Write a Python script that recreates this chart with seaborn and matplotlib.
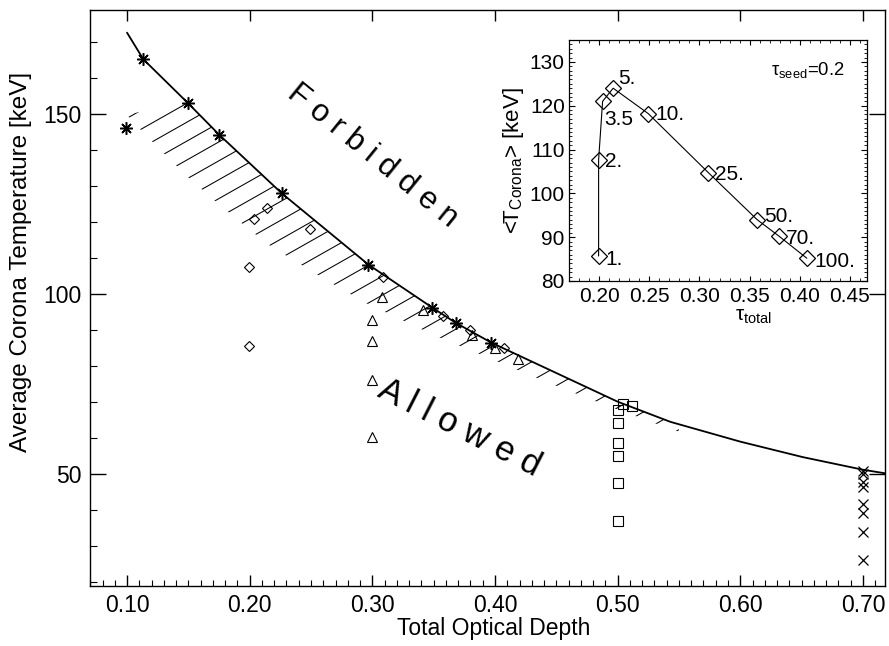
import numpy as np
import matplotlib
matplotlib.use('Agg')
import matplotlib.pyplot as plt
import seaborn as sns
import pandas as pd
from matplotlib.patches import Polygon
from matplotlib.ticker import MultipleLocator, FormatStrFormatter, FixedLocator

# ---------------- data ----------------
curve_tau = [0.100, 0.1133, 0.1495, 0.175, 0.2261, 0.2967, 0.349, 0.368, 0.397, 0.500, 0.543, 0.600, 0.651, 0.700, 0.720]
curve_T = [172.7, 165.3, 153.2, 144.4, 128.1, 108.3, 96.3, 92.1, 86.6, 70.2, 64.6, 59.1, 54.8, 51.3, 50.2]

star_tau = [0.0995, 0.1133, 0.1495, 0.175, 0.2261, 0.2967, 0.349, 0.368, 0.397]
star_T = [146.3, 165.3, 153.2, 144.4, 128.1, 108.3, 96.3, 92.1, 86.6]

diam_tau = [0.1995, 0.1995, 0.2035, 0.2140, 0.2490, 0.3090, 0.3575, 0.3795, 0.4070]
diam_T = [85.7, 107.6, 121.0, 124.0, 118.2, 104.7, 94.0, 90.2, 85.2]
diam_lbl = ['1.', '2.', '3.5', '5.', '10.', '25.', '50.', '70.', '100.']

tri_tau = [0.2995, 0.2995, 0.2995, 0.3000, 0.3076, 0.3416, 0.3815, 0.4000, 0.4190]
tri_T = [60.3, 76.2, 87.1, 92.9, 99.3, 95.6, 88.7, 85.2, 82.0]

sq_tau = [0.500, 0.500, 0.500, 0.500, 0.500, 0.5005, 0.5046, 0.5120]
sq_T = [37.1, 47.7, 55.1, 58.8, 64.4, 67.9, 69.6, 68.9]

x_tau = [0.700, 0.700, 0.700, 0.700, 0.700, 0.700, 0.700, 0.700]
x_T = [26.2, 34.1, 39.3, 41.9, 46.4, 48.0, 50.1, 51.0]

# hatched band: upper and lower edges
band_top_tau = [0.100, 0.1495, 0.175, 0.2261, 0.2967, 0.349, 0.368, 0.397, 0.500, 0.543, 0.550]
band_top_T = [150.0, 153.2, 144.4, 128.1, 108.3, 96.3, 92.1, 86.6, 70.2, 64.6, 63.7]
band_low_tau = [0.100, 0.111, 0.130, 0.150, 0.171, 0.193, 0.215, 0.241, 0.267, 0.293, 0.323, 0.352,
                0.383, 0.414, 0.445, 0.477, 0.492, 0.525, 0.550]
band_low_T = [149.8, 145.8, 139.2, 132.5, 126.2, 119.9, 113.9, 108.4, 103.1, 97.9, 93.1, 88.4,
              84.1, 79.6, 75.3, 71.0, 69.0, 64.9, 61.8]

main_xticks = [0.10, 0.20, 0.30, 0.40, 0.50, 0.60, 0.70]
main_yticks = [50, 100, 150]
inset_xticks = [0.20, 0.25, 0.30, 0.35, 0.40, 0.45]
inset_yticks = [80, 90, 100, 110, 120, 130]

# ---------------- style ----------------
sns.set_style('ticks')
plt.rcParams['font.family'] = ['Liberation Sans', 'DejaVu Sans']
plt.rcParams['mathtext.fontset'] = 'custom'
plt.rcParams['mathtext.rm'] = 'Liberation Sans'
plt.rcParams['mathtext.default'] = 'regular'
plt.rcParams['axes.linewidth'] = 1.0
plt.rcParams['text.color'] = 'black'
plt.rcParams['axes.labelcolor'] = 'black'
plt.rcParams['xtick.color'] = 'black'
plt.rcParams['ytick.color'] = 'black'
plt.rcParams['axes.edgecolor'] = 'black'

W, H = 889, 646
fig = plt.figure(figsize=(W / 100, H / 100), dpi=100)
fig.patch.set_facecolor('white')

ax = fig.add_axes([90 / W, 1 - 586 / H, 795 / W, 576 / H])
ax.set_xlim(0.0698, 0.718)
ax.set_ylim(19, 179)
ax.autoscale(False)

curve_df = pd.DataFrame({'tau': curve_tau, 'T': curve_T})
sns.lineplot(data=curve_df, x='tau', y='T', ax=ax, color='black', lw=1.3,
             sort=False, estimator=None)

# hatched band (line fill at ~30 degrees, clipped to the band polygon)
poly_pts = np.column_stack([np.r_[band_top_tau, band_low_tau[::-1]],
                            np.r_[band_top_T, band_low_T[::-1]]])
poly = Polygon(poly_pts, closed=True, fill=False, edgecolor='none')
ax.add_patch(poly)
trans = ax.transData
disp = trans.transform(poly_pts)
x0d, y0d = trans.transform((band_low_tau[1], band_low_T[1]))
slope = np.tan(np.radians(29.5))
sp = 18.9 * fig.dpi / 100.0
xa, xb = disp[:, 0].min() - 10, disp[:, 0].max() + 10
bs = disp[:, 1] - slope * disp[:, 0]
b0 = y0d - slope * x0d
kmin = int(np.floor((bs.min() - b0) / sp)) - 1
kmax = int(np.ceil((bs.max() - b0) / sp)) + 1
inv = trans.inverted()
for k in range(kmin, kmax + 1):
    b = b0 + k * sp
    p = inv.transform([[xa, slope * xa + b], [xb, slope * xb + b]])
    ln, = ax.plot(p[:, 0], p[:, 1], color='black', lw=0.75)
    ln.set_clip_path(poly)

# markers
ax.plot(star_tau, star_T, ls='none', marker=(8, 2, 0), ms=9, mew=1.1, color='black')
ax.plot(diam_tau, diam_T, ls='none', marker='D', ms=5.5, mfc='none', mec='black', mew=0.8)
ax.plot(tri_tau, tri_T, ls='none', marker='^', ms=7.5, mfc='none', mec='black', mew=0.8)
ax.plot(sq_tau, sq_T, ls='none', marker='s', ms=6.5, mfc='none', mec='black', mew=0.8)
ax.plot(x_tau, x_T, ls='none', marker='x', ms=7, color='black', mew=0.9)

ax.text(0.3001, 138.4, 'F o r b i d d e n', rotation=-39, fontsize=22.5,
        ha='center', va='center', rotation_mode='anchor')
ax.text(0.3707, 62.9, 'A l l o w e d', rotation=-27, fontsize=25,
        ha='center', va='center', rotation_mode='anchor')

ax.xaxis.set_major_locator(FixedLocator(main_xticks))
ax.xaxis.set_major_formatter(FormatStrFormatter('%.2f'))
ax.xaxis.set_minor_locator(MultipleLocator(0.01))
ax.yaxis.set_major_locator(FixedLocator(main_yticks))
ax.yaxis.set_minor_locator(MultipleLocator(10))
ax.tick_params(which='both', direction='in', top=True, right=True, labelsize=16.5, color='black')
ax.tick_params(axis='x', which='major', length=8, width=1.0, pad=6)
ax.tick_params(axis='x', which='minor', length=4.3, width=0.8, top=False)
ax.tick_params(axis='y', which='major', length=11.5, width=1.0, pad=6)
ax.tick_params(axis='y', which='minor', length=5, width=0.8, right=False)
ax.set_xlabel('Total Optical Depth', fontsize=16.5, labelpad=0)
ax.set_ylabel('Average Corona Temperature [keV]', fontsize=17.5, labelpad=8)
ax.xaxis.label.set_x(0.508)
ax.yaxis.label.set_y(0.5625)
for s in ax.spines.values():
    s.set_linewidth(1.0)
    s.set_color('black')

# ---------------- inset ----------------
ax2 = fig.add_axes([569 / W, 1 - 281 / H, 298 / W, 241 / H])
ax2.set_xlim(0.170, 0.467)
ax2.set_ylim(80, 135)
inset_df = pd.DataFrame({'tau': diam_tau, 'T': diam_T})
sns.lineplot(data=inset_df, x='tau', y='T', ax=ax2, color='black', lw=0.8,
             sort=False, estimator=None)
ax2.plot(diam_tau, diam_T, ls='none', marker='D', ms=8, mfc='none', mec='black', mew=0.9)
offsets = [(7, -3), (6, -1), (2, -18), (5, 10), (7, -1), (7, -2), (7, 3), (7, -2), (8, -3)]
for t, T, lbl, off in zip(diam_tau, diam_T, diam_lbl, offsets):
    ax2.annotate(lbl, (t, T), xytext=off, textcoords='offset pixels',
                 ha='left', va='center', fontsize=15)
ax2.text(0.678, 0.876, 'τ$_{seed}$=0.2', transform=ax2.transAxes, fontsize=13.3,
         ha='left', va='center')
ax2.xaxis.set_major_locator(FixedLocator(inset_xticks))
ax2.xaxis.set_major_formatter(FormatStrFormatter('%.2f'))
ax2.xaxis.set_minor_locator(MultipleLocator(0.01))
ax2.yaxis.set_major_locator(FixedLocator(inset_yticks))
ax2.yaxis.set_minor_locator(MultipleLocator(1))
ax2.tick_params(which='both', direction='in', top=True, right=True, labelsize=15, color='black')
ax2.tick_params(axis='x', which='major', length=3.5, width=0.8, pad=4)
ax2.tick_params(axis='x', which='minor', length=2, width=0.6)
ax2.tick_params(axis='y', which='major', length=4.3, width=0.8, pad=3)
ax2.tick_params(axis='y', which='minor', length=2.2, width=0.6)
ax2.set_xlabel('τ$_{total}$', fontsize=15, labelpad=1)
ax2.xaxis.label.set_x(0.62)
ax2.set_ylabel('<T$_{Corona}$> [keV]', fontsize=16, labelpad=3)
for s in ax2.spines.values():
    s.set_linewidth(0.9)
    s.set_color('black')

fig.savefig('out.png', dpi=100, facecolor='white')
